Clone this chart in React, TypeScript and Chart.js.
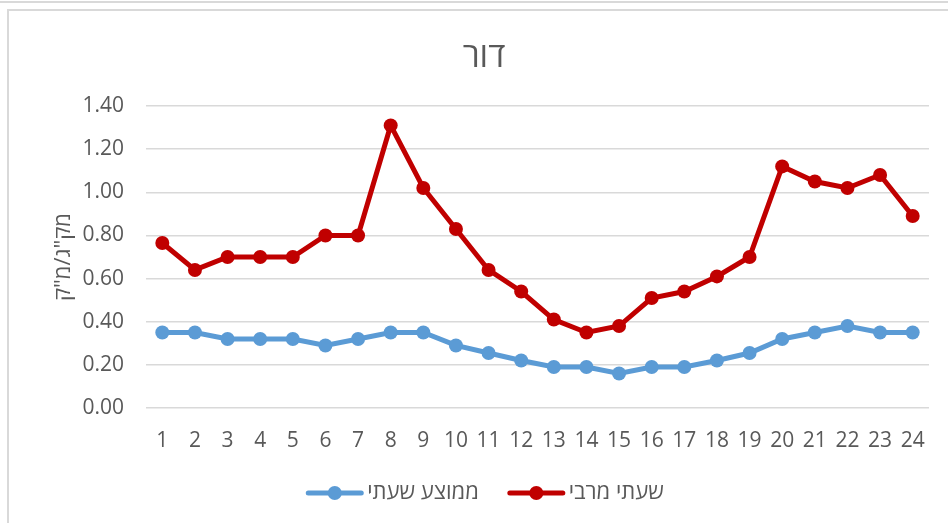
import React, { useEffect, useRef } from "react";
import { Chart, registerables } from "chart.js";

Chart.register(...registerables);

const hours: string[] = [
  "1", "2", "3", "4", "5", "6", "7", "8", "9", "10", "11", "12",
  "13", "14", "15", "16", "17", "18", "19", "20", "21", "22", "23", "24",
];

const hourlyAverage: number[] = [
  0.35, 0.35, 0.32, 0.32, 0.32, 0.29, 0.32, 0.35, 0.35, 0.29, 0.255, 0.22,
  0.19, 0.19, 0.16, 0.19, 0.19, 0.22, 0.255, 0.32, 0.35, 0.38, 0.35, 0.35,
];

const hourlyMax: number[] = [
  0.765, 0.64, 0.70, 0.70, 0.70, 0.80, 0.80, 1.31, 1.02, 0.83, 0.64, 0.54,
  0.41, 0.35, 0.38, 0.51, 0.54, 0.61, 0.70, 1.12, 1.05, 1.02, 1.08, 0.89,
];

const seriesNames: string[] = ["ממוצע שעתי", "שעתי מרבי"];
const seriesColors: string[] = ["#5b9bd5", "#c00000"];
const chartTitle = "דור";
const yAxisTitle = 'מק"ג/מ"ק';

const FONT = '"Open Sans", "Noto Sans", "DejaVu Sans", sans-serif';
const TEXT = "#595959";

const overlayPlugin = {
  id: "overlay",
  afterDraw(chart: any) {
    const ctx = chart.ctx as CanvasRenderingContext2D;
    ctx.save();
    // Title
    ctx.fillStyle = TEXT;
    ctx.font = `34px ${FONT}`;
    ctx.textAlign = "center";
    ctx.textBaseline = "middle";
    ctx.fillText(chartTitle, 484, 57);

    // Y axis title
    ctx.save();
    ctx.translate(64, 257);
    ctx.rotate(-Math.PI / 2);
    ctx.font = `22px ${FONT}`;
    ctx.textAlign = "center";
    ctx.textBaseline = "middle";
    ctx.fillText(yAxisTitle, 0, 0);
    ctx.restore();

    // Legend
    ctx.font = `22px ${FONT}`;
    const lineLen = 57;
    const gapText = 4;
    const gapItem = 29;
    const widths = chart.data.datasets.map((d: any) => ctx.measureText(d.label).width);
    const total = widths.reduce((a: number, w: number) => a + lineLen + gapText + w, 0) + gapItem * (widths.length - 1);
    let x = 485 - total / 2;
    const y = 493;
    chart.data.datasets.forEach((d: any, i: number) => {
      ctx.strokeStyle = d.borderColor;
      ctx.lineWidth = 5;
      ctx.lineCap = "round";
      ctx.beginPath();
      ctx.moveTo(x + 2, y);
      ctx.lineTo(x + lineLen - 2, y);
      ctx.stroke();
      ctx.fillStyle = d.borderColor;
      ctx.beginPath();
      ctx.arc(x + lineLen / 2, y, 7, 0, Math.PI * 2);
      ctx.fill();
      ctx.fillStyle = TEXT;
      ctx.textAlign = "left";
      ctx.textBaseline = "middle";
      ctx.fillText(d.label, x + lineLen + gapText, y);
      x += lineLen + gapText + widths[i] + gapItem;
    });
    ctx.restore();
  },
};

export default function App() {
  const canvasRef = useRef<HTMLCanvasElement | null>(null);

  useEffect(() => {
    if (!canvasRef.current) return;
    const chart = new Chart(canvasRef.current, {
      type: "line",
      data: {
        labels: hours,
        datasets: [
          {
            label: seriesNames[0],
            data: hourlyAverage,
            borderColor: seriesColors[0],
            backgroundColor: seriesColors[0],
            borderWidth: 5,
            pointRadius: 7,
            pointHoverRadius: 7,
            pointBorderWidth: 0,
            pointBackgroundColor: seriesColors[0],
            tension: 0,
          },
          {
            label: seriesNames[1],
            data: hourlyMax,
            borderColor: seriesColors[1],
            backgroundColor: seriesColors[1],
            borderWidth: 5,
            pointRadius: 7,
            pointHoverRadius: 7,
            pointBorderWidth: 0,
            pointBackgroundColor: seriesColors[1],
            tension: 0,
          },
        ],
      },
      options: {
        animation: false,
        responsive: false,
        maintainAspectRatio: false,
        layout: { padding: { left: 0, right: 19, top: 106, bottom: 55 } },
        plugins: {
          legend: { display: false },
          title: { display: false },
          tooltip: { enabled: false },
        },
        scales: {
          x: {
            type: "category",
            offset: true,
            grid: { display: false },
            border: { display: false },
            ticks: {
              color: TEXT,
              font: { family: FONT, size: 21 },
              padding: 12,
              maxRotation: 0,
              autoSkip: false,
            },
            afterFit(scale: any) {
              scale.height = 60;
            },
          },
          y: {
            min: 0,
            max: 1.4,
            grid: { color: "#d9d9d9", lineWidth: 1.5, drawTicks: false },
            border: { display: false },
            ticks: {
              stepSize: 0.2,
              color: TEXT,
              font: { family: FONT, size: 21 },
              padding: 22,
              callback: (v: any) => Number(v).toFixed(2),
            },
            afterFit(scale: any) {
              scale.width = 146;
            },
          },
        },
      },
      plugins: [overlayPlugin],
    });
    return () => chart.destroy();
  }, []);

  return (
    <div style={{ position: "fixed", left: 0, top: 0, width: 948, height: 523, background: "#fff", overflow: "hidden" }}>
      <div style={{ position: "absolute", left: 0, top: 1, width: 948, height: 2, background: "#d9d9d9" }} />
      <div
        style={{
          position: "absolute",
          left: 7,
          top: 9,
          width: 1000,
          height: 600,
          borderLeft: "2px solid #d9d9d9",
          borderTop: "2px solid #d9d9d9",
        }}
      />
      <canvas ref={canvasRef} width={948} height={523} style={{ position: "absolute", left: 0, top: 0, width: 948, height: 523 }} />
    </div>
  );
}
